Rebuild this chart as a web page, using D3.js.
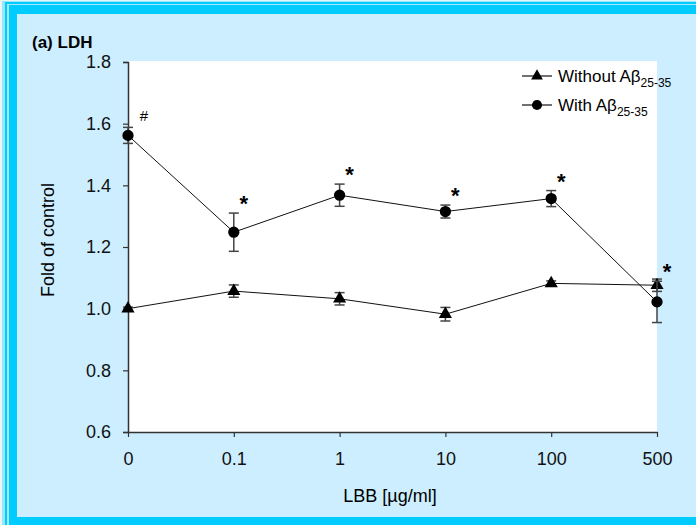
<!DOCTYPE html>
<html>
<head>
<meta charset="utf-8">
<script src="https://cdn.jsdelivr.net/npm/d3@7"></script>
<style>
  body { margin: 0; padding: 0; background: #e6f6ee; }
  svg { display: block; font-family: "Liberation Sans", Arial, sans-serif; }
</style>
</head>
<body>
<div id="chart"></div>
<script>
// DATA
const doses = ["0", "0.1", "1", "10", "100", "500"]
const withoutAb = [1.000, 1.057, 1.032, 0.982, 1.082, 1.076]
const withoutErr = [0.005, 0.020, 0.020, 0.022, 0.008, 0.020]
const withAb = [1.562, 1.248, 1.368, 1.315, 1.357, 1.022]
const withErr = [0.026, 0.062, 0.036, 0.021, 0.026, 0.067]
const marks = ["#", "*", "*", "*", "*", "*"]
const yTicks = [0.6, 0.8, 1.0, 1.2, 1.4, 1.6, 1.8]

const width = 696, height = 525
const cyan = "#00ccff", pale = "#cceeff"

const svg = d3.select("#chart")
    .append("svg")
    .attr("width", width)
    .attr("height", height)

// FRAME
svg.append("rect").attr("width", width).attr("height", height).attr("fill", "#e8f6f4")
svg.append("rect").attr("x", 2).attr("y", 1).attr("width", width - 2).attr("height", height - 1).attr("fill", "#99e6ff")
svg.append("rect").attr("x", 5).attr("y", 2).attr("width", width - 5).attr("height", height - 2).attr("fill", cyan)
svg.append("rect").attr("x", 7).attr("y", 4).attr("width", width - 7).attr("height", height - 4).attr("fill", "#a8e8ff")
svg.append("rect").attr("x", 9).attr("y", 5).attr("width", width - 9).attr("height", height - 5).attr("fill", cyan)
svg.append("rect").attr("x", 17).attr("y", 14).attr("width", width - 17).attr("height", 503).attr("fill", pale)

// SCALES
const x = d3.scalePoint().domain(doses).range([128, 657])
const y = d3.scaleLinear().domain([0.6, 1.8]).range([432, 62])

// PLOT AREA
svg.append("rect")
    .attr("x", x.range()[0]).attr("y", y(1.8) - 1)
    .attr("width", x.range()[1] - x.range()[0]).attr("height", y(0.6) - y(1.8) + 1)
    .attr("fill", "white")

// AXES
const yAxis = svg.append("g")
    .attr("transform", `translate(${x.range()[0]},0)`)
    .call(d3.axisLeft(y).tickValues(yTicks).tickSize(5).tickPadding(12).tickFormat(d3.format(".1f")))
yAxis.selectAll("text").attr("font-size", 18).attr("fill", "#111")
yAxis.select(".domain").attr("stroke", "#333").attr("stroke-width", 1.5)
yAxis.selectAll(".tick line").attr("stroke", "#333").attr("stroke-width", 1.2)

const xAxis = svg.append("g")
    .attr("transform", `translate(0,${y(0.6)})`)
    .call(d3.axisBottom(x).tickSize(5).tickSizeOuter(0).tickPadding(15))
xAxis.selectAll("text").attr("font-size", 18).attr("fill", "#111")
xAxis.select(".domain").attr("stroke", "#333").attr("stroke-width", 1.5)
xAxis.selectAll(".tick line").attr("stroke", "#333").attr("stroke-width", 1.2)

// AXIS TITLES
svg.append("text")
    .attr("x", 390).attr("y", 502)
    .attr("text-anchor", "middle").attr("font-size", 18)
    .text("LBB [µg/ml]")

svg.append("text")
    .attr("transform", "translate(54,240) rotate(-90)")
    .attr("text-anchor", "middle").attr("font-size", 18)
    .text("Fold of control")

svg.append("text")
    .attr("x", 32).attr("y", 48)
    .attr("font-size", 17).attr("font-weight", "bold")
    .text("(a) LDH")

// SERIES
const series = [
    { name: "Without Aβ", vals: withoutAb, errs: withoutErr, shape: d3.symbolTriangle },
    { name: "With Aβ", vals: withAb, errs: withErr, shape: d3.symbolCircle }
]

const line = d3.line().x((d, i) => x(doses[i])).y(d => y(d))

series.forEach(s => {
    const g = svg.append("g")
    g.append("path")
        .datum(s.vals)
        .attr("d", line)
        .attr("fill", "none")
        .attr("stroke", "#111")
        .attr("stroke-width", 1)

    // error bars
    const eb = g.selectAll(".err")
        .data(s.vals)
        .join("g")
        .attr("stroke", "#444")
        .attr("stroke-width", 1.5)
    eb.append("line")
        .attr("x1", (d, i) => x(doses[i])).attr("x2", (d, i) => x(doses[i]))
        .attr("y1", (d, i) => y(d - s.errs[i])).attr("y2", (d, i) => y(d + s.errs[i]))
    eb.append("line")
        .attr("x1", (d, i) => x(doses[i]) - 5).attr("x2", (d, i) => x(doses[i]) + 5)
        .attr("y1", (d, i) => y(d + s.errs[i])).attr("y2", (d, i) => y(d + s.errs[i]))
    eb.append("line")
        .attr("x1", (d, i) => x(doses[i]) - 5).attr("x2", (d, i) => x(doses[i]) + 5)
        .attr("y1", (d, i) => y(d - s.errs[i])).attr("y2", (d, i) => y(d - s.errs[i]))

    g.selectAll(".pt")
        .data(s.vals)
        .join("path")
        .attr("transform", (d, i) => `translate(${x(doses[i])},${y(d)})`)
        .attr("d", d3.symbol().type(s.shape).size(s.shape === d3.symbolCircle ? 100 : 75))
        .attr("fill", "black")
})

// SIGNIFICANCE MARKS
svg.append("g")
    .selectAll("text")
    .data(marks)
    .join("text")
    .attr("x", (d, i) => x(doses[i]) + (d === "#" ? 16 : 10))
    .attr("y", (d, i) => y(withAb[i] + withErr[i]) - 12 + (d === "#" ? 6 : 10))
    .attr("text-anchor", "middle")
    .attr("font-size", d => d === "#" ? 15 : 22)
    .attr("font-weight", d => d === "#" ? "normal" : "bold")
    .text(d => d)

// LEGEND
const legend = svg.append("g")
    .selectAll("g")
    .data(series)
    .join("g")
    .attr("transform", (d, i) => `translate(522,${76 + i * 29})`)
legend.append("line").attr("x1", 0).attr("x2", 30).attr("stroke", "#111").attr("stroke-width", 1.2)
legend.append("path")
    .attr("transform", "translate(15,0)")
    .attr("d", d => d3.symbol().type(d.shape).size(d.shape === d3.symbolCircle ? 80 : 60)())
    .attr("fill", "black")
const lt = legend.append("text")
    .attr("x", 36).attr("y", 6)
    .attr("font-size", 17)
lt.append("tspan").text(d => d.name)
lt.append("tspan").attr("font-size", 12).attr("dy", 5).text("25-35")
</script>
</body>
</html>
